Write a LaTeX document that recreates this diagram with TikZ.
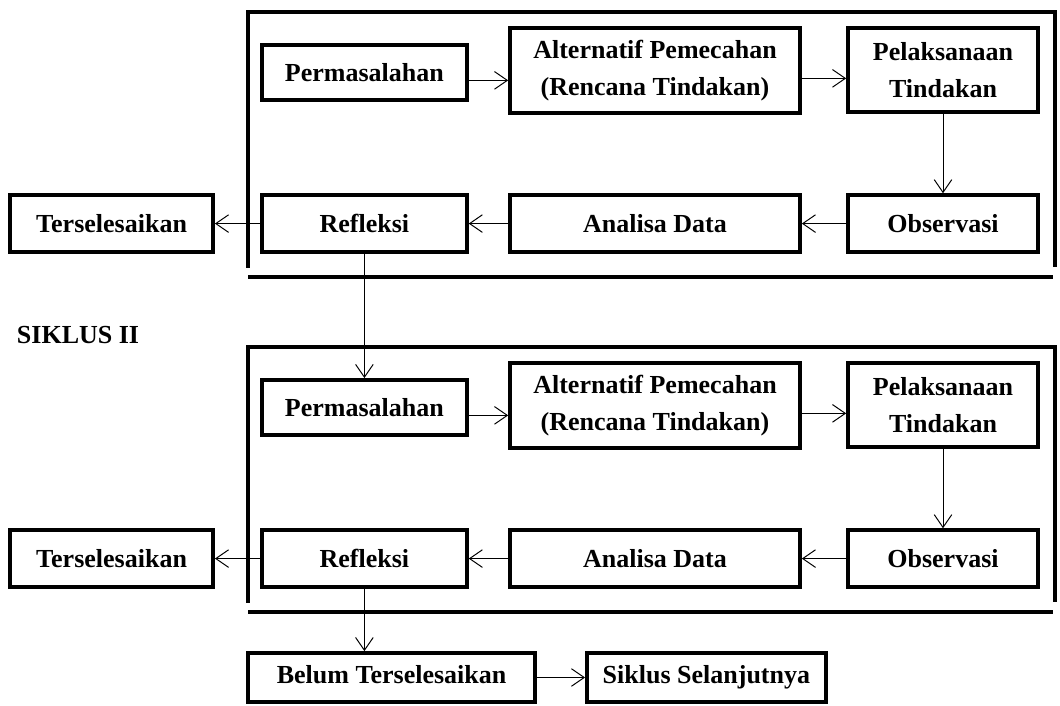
\documentclass[tikz,border=0pt]{standalone}
\usepackage{fontspec}
\setmainfont{Liberation Serif}
\usetikzlibrary{arrows.meta}
\usetikzlibrary{shadows}

\begin{document}
\begin{tikzpicture}[
	>={Straight Barb[length=3.2mm,width=4.4mm]},
	stage/.style={draw, line width=2.6pt, fill=white, inner sep=0pt,
		align=center, font=\fontsize{18.5}{26.2}\selectfont\bfseries,
		drop shadow={shadow xshift=0.6pt, shadow yshift=-0.6pt, opacity=0.25}},
	oneline/.style={text height=12.6pt, text depth=4pt},
	frame/.style={line width=2.8pt},
	link/.style={->, line width=0.7pt}
]

\useasboundingbox (0,0) rectangle (26.5,17.65);

%%%%%%%%%%%%%%%%%%%%%%%%%%%%%%%%%%%%%%%%%%

\draw [frame] (6.2,10.95) -- (6.2,17.35) -- (26.375,17.35) -- (26.375,10.975);
\draw [frame] (6.2,10.725) -- (26.325,10.725);

\node [stage, minimum width=5.125cm, minimum height=1.375cm] (perm1) at (9.11,15.84) {Permasalahan};
\node [stage, minimum width=7.25cm, minimum height=2.125cm] (alt1) at (16.375,15.89) {Alternatif Pemecahan\\(Rencana Tindakan)};
\node [stage, minimum width=4.75cm, minimum height=2.1cm] (pel1) at (23.575,15.9) {Pelaksanaan\\Tindakan};
\node [stage, minimum width=5.075cm, minimum height=1.425cm] (done1) at (2.79,12.06) {Terselesaikan};
\node [stage, minimum width=5.125cm, minimum height=1.425cm] (ref1) at (9.11,12.06) {Refleksi};
\node [stage, minimum width=7.25cm, minimum height=1.425cm] (ana1) at (16.375,12.06) {Analisa Data};
\node [stage, minimum width=4.75cm, minimum height=1.425cm] (obs1) at (23.575,12.06) {Observasi};

\draw [link] ([yshift=-0.2cm]perm1.east) -- ([yshift=-0.2cm]perm1.east -| alt1.west);
\draw [link] ([yshift=-0.2cm]alt1.east) -- ([yshift=-0.2cm]alt1.east -| pel1.west);
\draw [link] (pel1.south) -- (obs1.north);
\draw [link] (obs1.west) -- (ana1.east);
\draw [link] (ana1.west) -- (ref1.east);
\draw [link] (ref1.west) -- (done1.east);

%%%%%%%%%%%%%%%%%%%%%%%%%%%%%%%%%%%%%%%%%%

\node [anchor=west, font=\fontsize{18.5}{22}\selectfont\bfseries] (cycle2) at (0.3,9.275) {SIKLUS II};

\draw [frame] (6.2,2.575) -- (6.2,8.975) -- (26.375,8.975) -- (26.375,2.6);
\draw [frame] (6.2,2.35) -- (26.325,2.35);

\node [stage, minimum width=5.125cm, minimum height=1.375cm] (perm2) at (9.11,7.465) {Permasalahan};
\node [stage, minimum width=7.25cm, minimum height=2.125cm] (alt2) at (16.375,7.515) {Alternatif Pemecahan\\(Rencana Tindakan)};
\node [stage, minimum width=4.75cm, minimum height=2.1cm] (pel2) at (23.575,7.525) {Pelaksanaan\\Tindakan};
\node [stage, minimum width=5.075cm, minimum height=1.425cm] (done2) at (2.79,3.685) {Terselesaikan};
\node [stage, minimum width=5.125cm, minimum height=1.425cm] (ref2) at (9.11,3.685) {Refleksi};
\node [stage, minimum width=7.25cm, minimum height=1.425cm] (ana2) at (16.375,3.685) {Analisa Data};
\node [stage, minimum width=4.75cm, minimum height=1.425cm] (obs2) at (23.575,3.685) {Observasi};

\draw [link] (ref1.south) -- (perm2.north);

\draw [link] ([yshift=-0.2cm]perm2.east) -- ([yshift=-0.2cm]perm2.east -| alt2.west);
\draw [link] ([yshift=-0.2cm]alt2.east) -- ([yshift=-0.2cm]alt2.east -| pel2.west);
\draw [link] (pel2.south) -- (obs2.north);
\draw [link] (obs2.west) -- (ana2.east);
\draw [link] (ana2.west) -- (ref2.east);
\draw [link] (ref2.west) -- (done2.east);

%%%%%%%%%%%%%%%%%%%%%%%%%%%%%%%%%%%%%%%%%%

\node [stage, oneline, minimum width=7.175cm, minimum height=1.225cm] (notyet) at (9.79,0.7125) {Belum Terselesaikan};
\node [stage, oneline, minimum width=5.975cm, minimum height=1.225cm] (next) at (17.66,0.7125) {Siklus Selanjutnya};

\draw [link] (ref2.south) -- (ref2.south |- notyet.north);
\draw [link] (notyet.east) -- (next.west);

\end{tikzpicture}
\end{document}
